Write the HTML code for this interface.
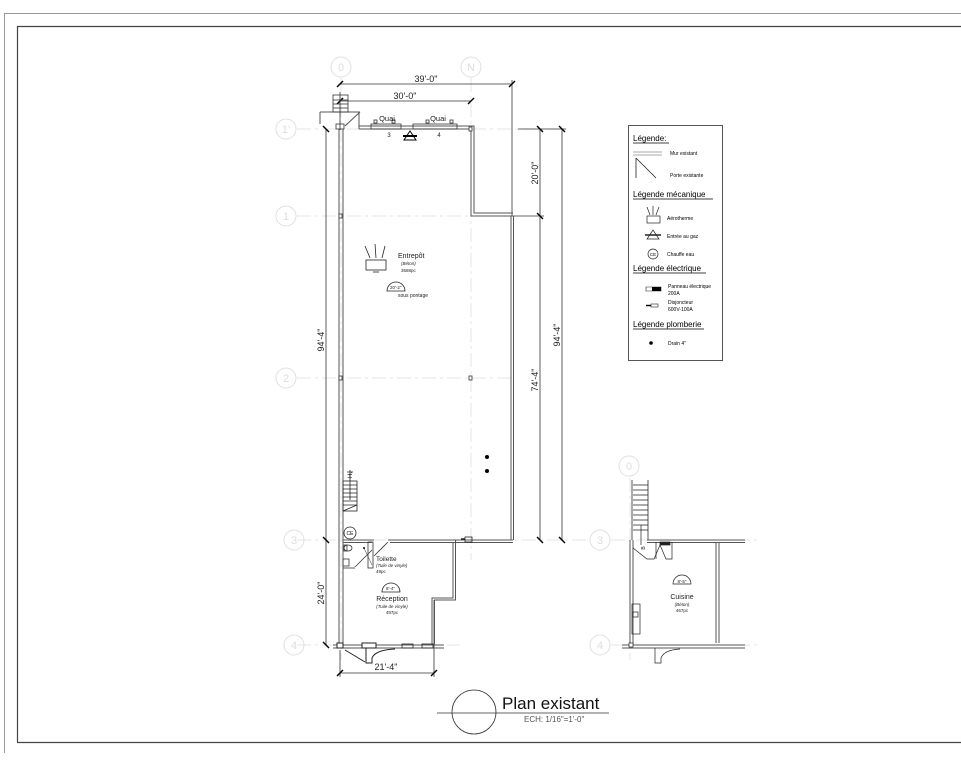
<!DOCTYPE html>
<html><head><meta charset="utf-8"><style>
html,body{margin:0;padding:0;background:#fff;}
svg{display:block;font-family:"Liberation Sans",sans-serif;}
</style></head><body>
<svg width="961" height="768" viewBox="0 0 961 768" xmlns="http://www.w3.org/2000/svg">
<rect width="961" height="768" fill="#fff"/>
<!-- frames -->
<path d="M4.5 753 V13.5 H961" fill="none" stroke="#999" stroke-width="1"/>
<path d="M17.5 742 V26.5 H961 M17 742.5 H961" fill="none" stroke="#444" stroke-width="1.2"/>

<!-- grid lines -->
<g stroke="#e4e4e4" stroke-width="1" stroke-dasharray="14,4,3,4" fill="none">
<line x1="341" y1="78" x2="341" y2="660"/>
<line x1="471" y1="78" x2="471" y2="560"/>
<line x1="297" y1="129" x2="560" y2="129"/>
<line x1="297" y1="216" x2="515" y2="216"/>
<line x1="297" y1="378" x2="515" y2="378"/>
<line x1="297" y1="540" x2="590" y2="540"/>
<line x1="297" y1="645" x2="460" y2="645"/>
<line x1="611" y1="540" x2="760" y2="540"/>
<line x1="611" y1="645" x2="760" y2="645"/>
<line x1="630" y1="478" x2="630" y2="660"/>
</g>
<g fill="none" stroke="#e0e0e0" stroke-width="1">
<circle cx="341" cy="67" r="10"/><circle cx="471" cy="67" r="10"/>
<circle cx="286" cy="129" r="10"/><circle cx="286" cy="216" r="10"/>
<circle cx="286" cy="378" r="10"/><circle cx="294" cy="540" r="10"/>
<circle cx="294" cy="645" r="10"/><circle cx="600" cy="540" r="10"/>
<circle cx="600" cy="645" r="10"/><circle cx="629" cy="466" r="10"/>
</g>
<g fill="#ddd" font-size="11" text-anchor="middle">
<text x="341" y="71">0</text><text x="471" y="71">N</text>
<text x="286" y="133">1'</text><text x="286" y="220">1</text>
<text x="286" y="382">2</text><text x="294" y="544">3</text>
<text x="294" y="649">4</text><text x="600" y="544">3</text>
<text x="600" y="649">4</text><text x="629" y="470">0</text>
</g>

<!-- dimension lines -->
<g stroke="#333" stroke-width="0.8" fill="none">
<line x1="340" y1="84" x2="512" y2="84"/>
<line x1="340" y1="101" x2="471" y2="101"/>
<line x1="512" y1="80" x2="512" y2="216"/>
<line x1="326" y1="129" x2="326" y2="645"/>
<line x1="540" y1="129" x2="540" y2="540"/>
<line x1="562" y1="129" x2="562" y2="540"/>
<line x1="518" y1="129" x2="566" y2="129"/>
<line x1="513" y1="216" x2="544" y2="216"/>
<line x1="340" y1="673" x2="434" y2="673"/>
<line x1="340" y1="650" x2="340" y2="677"/>
<line x1="434" y1="600" x2="434" y2="677"/>
</g>
<g stroke="#000" stroke-width="1.4">
<line x1="337" y1="87" x2="343" y2="81"/><line x1="509" y1="87" x2="515" y2="81"/>
<line x1="337" y1="104" x2="343" y2="98"/><line x1="468" y1="104" x2="474" y2="98"/>
<line x1="323" y1="126" x2="329" y2="132"/><line x1="323" y1="537" x2="329" y2="543"/><line x1="323" y1="642" x2="329" y2="648"/>
<line x1="537" y1="126" x2="543" y2="132"/><line x1="537" y1="213" x2="543" y2="219"/><line x1="537" y1="537" x2="543" y2="543"/>
<line x1="559" y1="126" x2="565" y2="132"/><line x1="559" y1="537" x2="565" y2="543"/>
<line x1="337" y1="676" x2="343" y2="670"/><line x1="431" y1="676" x2="437" y2="670"/>
</g>
<g fill="#222" font-size="9" text-anchor="middle">
<text x="426" y="82">39'-0"</text>
<text x="405" y="99">30'-0"</text>
<text x="386" y="670">21'-4"</text>
<text transform="translate(538,173) rotate(-90)">20'-0"</text>
<text transform="translate(538,380) rotate(-90)">74'-4"</text>
<text transform="translate(560,335) rotate(-90)">94'-4"</text>
<text transform="translate(324,340) rotate(-90)">94'-4"</text>
<text transform="translate(324,593) rotate(-90)">24'-0"</text>
</g>

<!-- main walls -->
<g fill="none" stroke="#555" stroke-width="1">
<path d="M339 129 V645 M343 129 V645"/>
<path d="M359 126 H474 V213 H513 M359 129 H471 V216 H513"/>
<path d="M511 216 V540 M513.5 216 V540"/>
<path d="M343 540 H374 M388 540 H513 M343 542.5 H372 M390 542.5 H513"/>
<path d="M453 542 V598 H432 V645 M455.5 540 V600 H434.5 V645"/>
<path d="M333 645 H444 M333 648 H444"/>
<path d="M359 112 V129 M320 112 H360 M320 112 V124 M360 112 L345 126"/>
</g>
<!-- dock -->
<g fill="none" stroke="#333" stroke-width="0.8">
<rect x="371" y="124" width="30" height="5"/><rect x="413" y="124" width="44" height="5"/>
<rect x="374" y="120" width="3" height="3"/><rect x="392" y="120" width="3" height="3"/>
<rect x="426" y="120" width="3" height="3"/><rect x="450" y="120" width="3" height="3"/>
<rect x="336" y="124" width="8" height="5"/>
<rect x="333" y="95" width="15" height="17"/>
<line x1="333" y1="100" x2="348" y2="100"/><line x1="333" y1="104" x2="348" y2="104"/><line x1="333" y1="108" x2="348" y2="108"/>
<line x1="340" y1="92" x2="340" y2="130"/>
</g>
<g font-size="7.5" fill="#222" text-anchor="middle">
<text x="387" y="121">Quai</text><text x="438" y="121">Quai</text>
<text x="389" y="137" font-size="6">3</text><text x="439" y="137" font-size="6">4</text>
</g>
<!-- gas -->
<g fill="none" stroke="#000" stroke-width="1">
<path d="M410 131 L404 140 H416 Z"/><line x1="403" y1="136" x2="417" y2="136" stroke-width="2"/>
</g>
<!-- columns -->
<g fill="#fff" stroke="#333" stroke-width="0.8">
<rect x="339" y="214" width="3" height="4"/><rect x="339" y="376" width="3" height="4"/>
<rect x="469" y="376" width="3" height="4"/><rect x="469" y="127" width="3" height="4"/>
</g>
<circle cx="487" cy="457" r="2" fill="#000"/><circle cx="487" cy="471" r="2" fill="#000"/>

<!-- entrepot -->
<g fill="none" stroke="#222" stroke-width="0.8">
<rect x="366" y="260" width="20" height="10"/><line x1="373" y1="272" x2="379" y2="272"/>
<path d="M365 246 L370 258 M375 244 L376 258 M385 246 L382 258"/>
<path d="M387 291 A9 9 0 0 1 405 291 Z"/>
</g>
<g fill="#222" text-anchor="start">
<text x="398" y="258" font-size="7">Entrepôt</text>
<text x="401" y="265" font-size="4.5" font-style="italic">(Béton)</text>
<text x="401" y="272" font-size="4.5">3588pc</text>
<text x="390" y="289" font-size="4.5">20'-2"</text>
<text x="398" y="297" font-size="5">sous pontage</text>
</g>

<!-- stairs left -->
<g fill="none" stroke="#222" stroke-width="0.8">
<rect x="343" y="481" width="14" height="30"/>
<path d="M343 485 H357 M343 489 H357 M343 493 H357 M343 497 H357 M343 501 H357 M343 505 H357"/>
<path d="M350 470 V500 M347 472 H353"/>
<path d="M343 511 L357 505"/>
<circle cx="350" cy="533" r="6"/>
</g>
<text x="350" y="535" font-size="5" text-anchor="middle">CE</text>
<text transform="translate(352,478) rotate(-90)" font-size="6">H.</text>
<!-- toilet -->
<g fill="none" stroke="#333" stroke-width="0.8">
<rect x="368" y="542" width="5" height="26"/>
<line x1="372" y1="550" x2="355" y2="567"/>
<line x1="364" y1="548" x2="372" y2="565" stroke-width="0.5"/>
<path d="M388 542 L374 556"/>
<ellipse cx="348" cy="548" rx="4" ry="3"/><rect x="344" y="545" width="3" height="6"/>
<rect x="343" y="559" width="6" height="7"/>
<path d="M343 568 H355"/>
</g>
<circle cx="364" cy="548" r="1" fill="#000"/>
<g fill="#222">
<text x="376" y="561" font-size="6.5">Toilette</text>
<text x="376" y="567" font-size="4.5" font-style="italic">(Tuile de vinyle)</text>
<text x="376" y="573" font-size="4.5">49pc</text>
<path d="M382 592 A9 9 0 0 1 400 592 Z" fill="none" stroke="#222" stroke-width="0.8"/>
<text x="386" y="590" font-size="4.5">8'-4"</text>
<text x="392" y="601" font-size="7" text-anchor="middle">Réception</text>
<text x="392" y="608" font-size="4.5" text-anchor="middle" font-style="italic">(Tuile de vinyle)</text>
<text x="392" y="614" font-size="4.5" text-anchor="middle">497pc</text>
</g>
<!-- electrical -->
<g fill="none" stroke="#222" stroke-width="0.8">
<rect x="465" y="537" width="7" height="5"/><line x1="461" y1="539" x2="465" y2="539" stroke-width="1.5"/>
</g>
<!-- bottom entrance -->
<g fill="none" stroke="#222" stroke-width="1">
<path d="M366 648 V663 H372 V658 Q375 650 395 649"/>
<path d="M345 650 L365 662"/>
<rect x="337" y="643" width="6" height="5" fill="#fff"/>
<rect x="402" y="644" width="11" height="4" stroke-width="0.8"/>
<rect x="422" y="644" width="11" height="4" stroke-width="0.8"/>
<rect x="362" y="643" width="14" height="5" fill="#fff"/>
</g>

<!-- annex -->
<g fill="none" stroke="#555" stroke-width="1">
<path d="M630 540 V645 M633 540 V645"/>
<path d="M647 540 H745 M647 542.5 H745"/>
<path d="M716 542 V643 M719 542 V643"/>
<path d="M622 645 H745 M622 648 H745"/>
<path d="M632 480 V540 M648 480 V540"/>
</g>
<g fill="none" stroke="#222" stroke-width="0.7">
<path d="M633 485 H648 M633 490 H648 M633 495 H648 M633 500 H648 M633 505 H648 M633 510 H648 M633 515 H648 M633 520 H648 M633 525 H648 M633 530 H648"/>
<path d="M641 525 V545"/>
<path d="M633 548 L647 559 H654 L660 545 L666 559 H672 V542"/>
<path d="M656 542 V559"/>
<rect x="660" y="542" width="10" height="3" fill="#222"/>
<rect x="632" y="604" width="8" height="30"/><rect x="633" y="612" width="5" height="5"/>
<path d="M655 648 V663 H661 V658 Q664 650 680 649"/>
<rect x="629" y="643" width="4" height="4" fill="#fff"/>
<path d="M673 584 A9 9 0 0 1 691 584 Z"/>
</g>
<g fill="#222" text-anchor="middle">
<text x="682" y="583" font-size="4.5">8'-5"</text>
<text x="682" y="599" font-size="7">Cuisine</text>
<text x="682" y="606" font-size="4.5" font-style="italic">(Béton)</text>
<text x="682" y="612" font-size="4.5">467pc</text>
<text transform="translate(645,548) rotate(-90)" font-size="5">B</text>
</g>

<!-- legend -->
<rect x="628.5" y="125.5" width="94" height="235" fill="#fff" stroke="#555" stroke-width="1"/>
<g fill="#000">
<text x="633" y="141" font-size="8">Légende:</text>
<line x1="633" y1="143" x2="669" y2="143" stroke="#000" stroke-width="0.8"/>
<line x1="633" y1="152" x2="662" y2="152" stroke="#555" stroke-width="0.6"/>
<line x1="633" y1="155" x2="662" y2="155" stroke="#555" stroke-width="0.6"/>
<text x="670" y="155" font-size="5">Mur existant</text>
<path d="M636 158 V178 M636 158 L656 178" stroke="#222" stroke-width="0.8" fill="none"/>
<text x="670" y="177" font-size="5">Porte existante</text>
<text x="633" y="197" font-size="8">Légende mécanique</text>
<line x1="633" y1="199" x2="713" y2="199" stroke="#000" stroke-width="0.8"/>
<g fill="none" stroke="#222" stroke-width="0.7">
<path d="M647 207 L650 215 M653 206 L653 215 M659 207 L656 215"/>
<rect x="647" y="216" width="13" height="7"/>
<path d="M653 230 L647 239 H659 Z"/><line x1="645" y1="235" x2="661" y2="235" stroke-width="1.5"/>
<circle cx="653" cy="254" r="5"/>
</g>
<text x="653" y="256" font-size="4.5" text-anchor="middle">CE</text>
<text x="667" y="220" font-size="5">Aérotherme</text>
<text x="667" y="238" font-size="5">Entrée au gaz</text>
<text x="667" y="256" font-size="5">Chauffe eau</text>
<text x="633" y="271" font-size="8">Légende électrique</text>
<line x1="633" y1="273" x2="706" y2="273" stroke="#000" stroke-width="0.8"/>
<path d="M646 287 H661 V291 H646 Z" fill="none" stroke="#222" stroke-width="0.6"/>
<path d="M652 287 L661 287 L661 291 L652 291 Z" fill="#000"/>
<text x="668" y="288" font-size="5">Panneau électrique</text>
<text x="668" y="295" font-size="5">200A</text>
<rect x="651" y="304" width="7" height="3" fill="none" stroke="#222" stroke-width="0.6"/>
<line x1="646" y1="305.5" x2="651" y2="305.5" stroke="#000" stroke-width="1.4"/>
<text x="668" y="304" font-size="5">Disjoncteur</text>
<text x="668" y="311" font-size="5">600V-100A</text>
<text x="633" y="327" font-size="8">Légende plomberie</text>
<line x1="633" y1="329" x2="704" y2="329" stroke="#000" stroke-width="0.8"/>
<circle cx="651" cy="343" r="1.8"/>
<text x="668" y="345" font-size="5">Drain 4"</text>
</g>

<!-- title -->
<circle cx="474" cy="712" r="22" fill="none" stroke="#333" stroke-width="0.8"/>
<line x1="437" y1="713" x2="609" y2="713" stroke="#333" stroke-width="0.8"/>
<text x="502" y="709" font-size="17" fill="#111">Plan existant</text>
<text x="524" y="722" font-size="8" fill="#555">ECH: 1/16"=1'-0"</text>
</svg>
</body></html>
